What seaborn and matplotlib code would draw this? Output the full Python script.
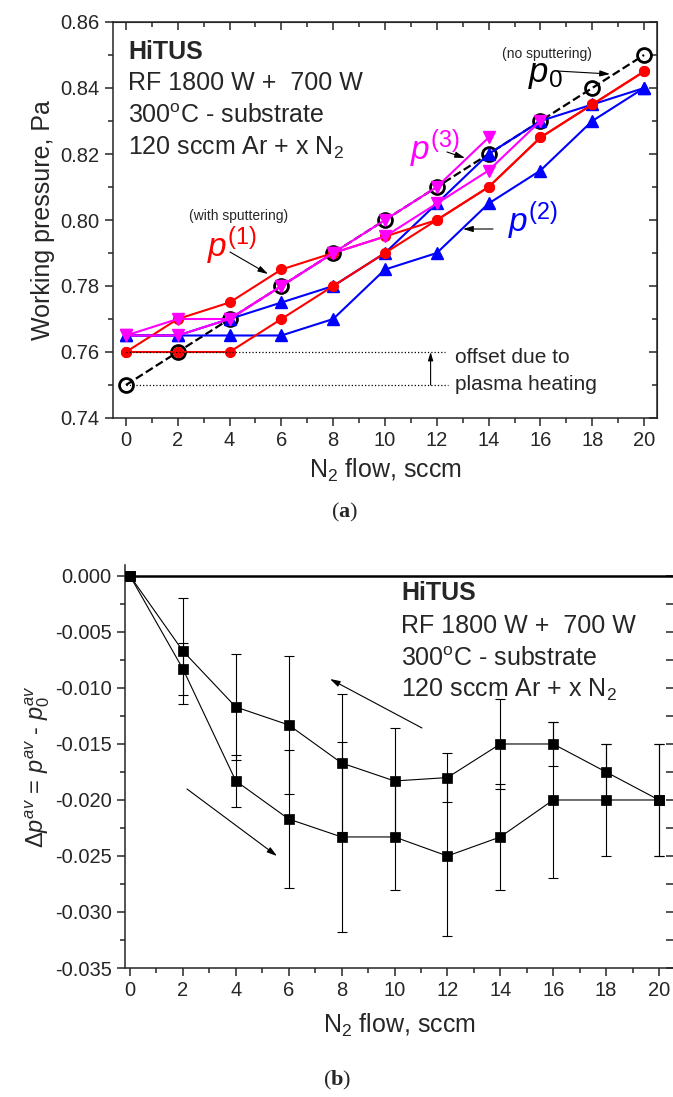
import matplotlib
matplotlib.use("Agg")
import matplotlib.pyplot as plt
from matplotlib.ticker import MultipleLocator, FormatStrFormatter
import seaborn as sns

# N2 flow, sccm
flow = [0, 2, 4, 6, 8, 10, 12, 14, 16, 18, 20]

# (a) working pressure, Pa
p0 = [0.75, 0.76, 0.77, 0.78, 0.79, 0.80, 0.81, 0.82, 0.83, 0.84, 0.85]
p1_up = [0.76, 0.76, 0.76, 0.77, 0.78, 0.79, 0.80, 0.81, 0.825, 0.835, 0.845]
p1_down = [0.76, 0.77, 0.775, 0.785, 0.79, 0.795, 0.80, 0.81, 0.825, 0.835, 0.845]
p2_up = [0.765, 0.765, 0.765, 0.765, 0.77, 0.785, 0.79, 0.805, 0.815, 0.83, 0.84]
p2_down = [0.765, 0.765, 0.77, 0.775, 0.78, 0.79, 0.805, 0.82, 0.83, 0.835, 0.84]
flow_p3a = [0, 2, 4, 6, 8, 10, 12, 14]
p3_a = [0.765, 0.77, 0.77, 0.78, 0.79, 0.80, 0.81, 0.825]
flow_p3b = [0, 2, 4, 6, 8, 10, 12, 14, 16]
p3_b = [0.765, 0.765, 0.77, 0.78, 0.79, 0.795, 0.805, 0.815, 0.83]

# (b) averaged pressure difference
dp_inc = [0, -0.0083, -0.0183, -0.0217, -0.0233, -0.0233, -0.0250, -0.0233, -0.0200, -0.0200, -0.0200]
dp_inc_err = [0, 0.0023, 0.0023, 0.0062, 0.0085, 0.0047, 0.0071, 0.0047, 0.0070, 0.0050, 0.0050]
dp_dec = [0, -0.0067, -0.0117, -0.0133, -0.0167, -0.0183, -0.0180, -0.0150, -0.0150, -0.0175, -0.0200]
dp_dec_err = [0, 0.0047, 0.0047, 0.0062, 0.0062, 0.0047, 0.0022, 0.0040, 0.0020, 0.0025, 0.0050]

sns.set_style("ticks")
plt.rcParams["font.family"] = ["Liberation Sans", "DejaVu Sans"]
plt.rcParams["mathtext.fontset"] = "custom"
plt.rcParams["mathtext.rm"] = "Liberation Sans"
plt.rcParams["mathtext.it"] = "Liberation Sans:italic"
plt.rcParams["mathtext.bf"] = "Liberation Serif:bold"

W, H = 673, 1097
fig = plt.figure(figsize=(W / 100, H / 100), dpi=100)


def fp(x, y):
    # pixel position (from top-left) -> figure fraction
    return (x / W, 1 - y / H)


ax1 = fig.add_axes([113 / W, 1 - 418 / H, (657 - 113) / W, (418 - 22) / H])
ax2 = fig.add_axes([125 / W, 1 - 968 / H, (673 - 125) / W, (968 - 565) / H])

# ---------- panel (a) ----------
sns.lineplot(x=flow, y=p0, ax=ax1, color="black", linestyle="--", lw=1.6,
             marker="o", ms=10, mfc="none", mec="black", mew=2, errorbar=None)
for yy in (p2_up, p2_down):
    sns.lineplot(x=flow, y=yy, ax=ax1, color="#0000ff", lw=1.5, marker="^",
                 ms=8, mec="#0000ff", mew=1, errorbar=None)
for yy in (p1_up, p1_down):
    sns.lineplot(x=flow, y=yy, ax=ax1, color="#ff0000", lw=1.5, marker="o",
                 ms=7, mec="#ff0000", mew=1, errorbar=None)
sns.lineplot(x=flow_p3a, y=p3_a, ax=ax1, color="#ff00ff", lw=1.5, marker="v",
             ms=8, mec="#ff00ff", mew=1, errorbar=None)
sns.lineplot(x=flow_p3b, y=p3_b, ax=ax1, color="#ff00ff", lw=1.5, marker="v",
             ms=8, mec="#ff00ff", mew=1, errorbar=None)

ax1.set_xlim(-0.5, 20.5)
ax1.set_ylim(0.74, 0.86)
ax1.xaxis.set_major_locator(MultipleLocator(2))
ax1.xaxis.set_minor_locator(MultipleLocator(1))
ax1.yaxis.set_major_locator(MultipleLocator(0.02))
ax1.yaxis.set_minor_locator(MultipleLocator(0.01))
ax1.yaxis.set_major_formatter(FormatStrFormatter("%.2f"))
ax1.set_xlabel("N$_2$ flow, sccm", fontsize=18, labelpad=5)
ax1.set_ylabel("Working pressure, Pa", fontsize=18, labelpad=4)

# offset lines
ax1.hlines([0.76, 0.75], 0, [12.3, 12.45], colors="black", linestyles=":", lw=0.9)
ax1.annotate("", xy=(11.76, 0.76), xytext=(11.76, 0.75),
             arrowprops=dict(arrowstyle="-|>,head_length=0.5,head_width=0.15",
                             color="black", lw=0.8, shrinkA=0, shrinkB=0))
fig.text(*fp(455, 363), "offset due to", fontsize=15)
fig.text(*fp(455, 390), "plasma heating", fontsize=15)

for txt, y, kw in [("HiTUS", 59, dict(fontweight="bold")),
                   ("RF 1800 W +  700 W", 90, {}),
                   ("300$^{\\rm o}$C - substrate", 123, {}),
                   ("120 sccm Ar + x N$_2$", 155, {})]:
    fig.text(*fp(128, y), txt, fontsize=18, va="baseline", **kw)

fig.text(*fp(239, 216), "(with sputtering)", fontsize=10, ha="center", va="center")
fig.text(*fp(547, 54), "(no sputtering)", fontsize=10, ha="center", va="center")
fig.text(*fp(207, 257), "$p^{\\mathit{(1)}}$", fontsize=24, color="#ff0000", va="baseline")
fig.text(*fp(410, 160), "$p^{\\mathit{(3)}}$", fontsize=24, color="#ff00ff", va="baseline")
fig.text(*fp(508, 232), "$p^{\\mathit{(2)}}$", fontsize=24, color="#0000ff", va="baseline")
fig.text(*fp(528, 82), "$p_{\\mathit{0}}$", fontsize=25, color="black", va="baseline")

arrow = dict(arrowstyle="-|>,head_length=0.6,head_width=0.18", color="black",
             lw=0.8, shrinkA=0, shrinkB=0)
for tail, head in [((230, 252), (268, 274)), ((447, 152), (465, 158)),
                   ((493, 229), (463, 229)), ((557, 71), (610, 74)),
                   ((422, 728), (330, 679)), ((187, 789), (277, 856))]:
    fig.add_artist(plt.Annotation("", xy=fp(*head), xytext=fp(*tail),
                                  xycoords="figure fraction",
                                  textcoords="figure fraction", arrowprops=arrow))

sec = ax1.secondary_xaxis("top")
sec.xaxis.set_major_locator(MultipleLocator(2))
sec.xaxis.set_minor_locator(MultipleLocator(1))
sec.tick_params(which="both", direction="in", labeltop=False, width=1.1)
sec.tick_params(which="major", length=6)
sec.tick_params(which="minor", length=3.5)
sec_r = ax1.secondary_yaxis("right")
sec_r.yaxis.set_major_locator(MultipleLocator(0.02))
sec_r.yaxis.set_minor_locator(MultipleLocator(0.01))
sec_r.tick_params(which="both", direction="in", labelright=False, width=1.1)
sec_r.tick_params(which="major", length=6)
sec_r.tick_params(which="minor", length=3.5)

# ---------- panel (b) ----------
ax2.axhline(0, color="black", lw=1.8, zorder=1)
for yy, ee in ((dp_inc, dp_inc_err), (dp_dec, dp_dec_err)):
    ax2.errorbar(flow, yy, yerr=ee, fmt="none", ecolor="black", elinewidth=0.8,
                 capsize=3.5, capthick=0.8, zorder=2)
    sns.lineplot(x=flow, y=yy, ax=ax2, color="black", lw=0.8, marker="s",
                 ms=7.5, mec="black", mew=0.5, errorbar=None, zorder=3)

ax2.set_xlim(-0.19, 20.53)
ax2.set_ylim(-0.035, 0.00098)
ax2.xaxis.set_major_locator(MultipleLocator(2))
ax2.xaxis.set_minor_locator(MultipleLocator(1))
ax2.yaxis.set_major_locator(MultipleLocator(0.005))
ax2.yaxis.set_minor_locator(MultipleLocator(0.0025))
ax2.yaxis.set_major_formatter(FormatStrFormatter("%.3f"))
ax2.spines["top"].set_visible(False)
ax2.spines["right"].set_visible(False)
ax2.set_xlabel("N$_2$ flow, sccm", fontsize=18, labelpad=8)
ax2.set_ylabel("$\\mathit{\\Delta}p^{av}$ = $p^{av}$ - $p_0^{av}$", fontsize=17, labelpad=2)

sec_r2 = ax2.secondary_yaxis("right")
sec_r2.yaxis.set_major_locator(MultipleLocator(0.005))
sec_r2.yaxis.set_minor_locator(MultipleLocator(0.0025))
sec_r2.spines["right"].set_visible(False)
sec_r2.tick_params(which="both", direction="in", labelright=False, width=1.1, length=5)

for txt, y, kw in [("HiTUS", 600, dict(fontweight="bold")),
                   ("RF 1800 W +  700 W", 633, {}),
                   ("300$^{\\rm o}$C - substrate", 666, {}),
                   ("120 sccm Ar + x N$_2$", 697, {})]:
    fig.text(*fp(401, y), txt, fontsize=18, va="baseline", **kw)

for ax in (ax1, ax2):
    for s in ax.spines.values():
        s.set_linewidth(1.1)
    ax.tick_params(which="both", direction="out", width=1.1, labelsize=14.5)
    ax.tick_params(which="major", length=6)
    ax.tick_params(which="minor", length=3.5)

fig.text(*fp(345, 512), "($\\mathbf{a}$)", fontsize=16, family="Liberation Serif",
         ha="center", va="center")
fig.text(*fp(337, 1080), "($\\mathbf{b}$)", fontsize=16, family="Liberation Serif",
         ha="center", va="center")

fig.savefig("out.png", dpi=100)
